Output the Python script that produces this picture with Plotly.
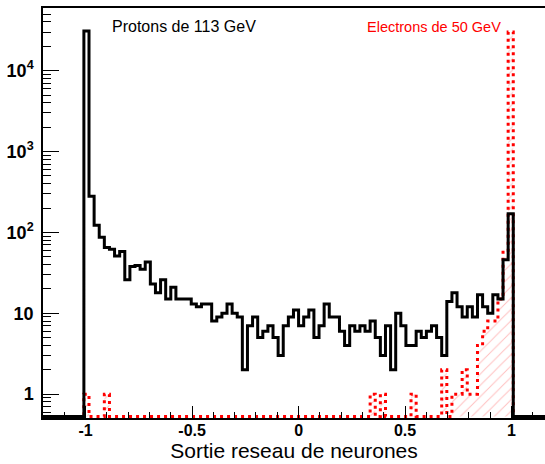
import numpy as np
import plotly.graph_objects as go

# Histogram binning: 100 bins of width 0.024 from -1.2 to 1.2
bin_low = -1.2
bin_width = 0.024
n_bins = 100
first_filled_bin = 8   # bin covering [-1.008, -0.984)

# Proton counts, bins 8..91 (from -1.008 to 1.008)
proton_counts = [
    31000, 280, 123, 87, 65, 62, 51, 58, 26, 38,
    39, 35, 43, 23, 18, 26, 15, 21, 15, 15,
    15, 13, 12, 13, 13, 8, 9, 10, 13, 10,
    9, 2, 7, 9, 5, 6, 7, 5, 3, 7,
    9, 11, 7, 9, 11, 5, 7, 13, 9, 9,
    6, 4, 7, 6, 7, 6, 8, 5, 3, 7,
    2, 10, 7, 4, 4, 6, 5, 6, 7, 5,
    3, 14, 18, 12, 9, 12, 9, 17, 12, 10,
    17, 15, 46, 170,
]

# Electron counts, bins 8..91
electron_counts = [
    1, 0, 0, 0, 1, 0, 0, 0, 0, 0,
    0, 0, 0, 0, 0, 0, 0, 0, 0, 0,
    0, 0, 0, 0, 0, 0, 0, 0, 0, 0,
    0, 0, 0, 0, 0, 0, 0, 0, 0, 0,
    0, 0, 0, 0, 0, 0, 0, 0, 0, 0,
    0, 0, 0, 0, 0, 0, 1, 0, 1, 0,
    0, 0, 0, 0, 1, 0, 0, 0, 0, 0,
    2, 0, 1, 1, 2, 1, 1, 4, 6, 8,
    8, 15, 60, 30000,
]

x_tick_vals = [-1, -0.5, 0, 0.5, 1]
x_tick_text = ["-1", "-0.5", "0", "0.5", "1"]
y_tick_vals = [1, 10, 100, 1000, 10000]
y_tick_text = ["1", "10", "10<sup>2</sup>", "10<sup>3</sup>", "10<sup>4</sup>"]

x_title = "Sortie reseau de neurones"
label_protons = "Protons de 113 GeV"
label_electrons = "Electrons de 50 GeV"

# Axis limits (log10 for y)
x_range = [-1.2, 1.157]
y_log_range = [-0.295, 4.775]
floor_value = 10 ** (y_log_range[0] + 0.02)   # empty bins sit on the axis floor

edges = bin_low + bin_width * np.arange(n_bins + 1)


def full_counts(values):
    arr = np.zeros(n_bins)
    arr[first_filled_bin:first_filled_bin + len(values)] = values
    return arr


def step_xy(values):
    arr = full_counts(values)
    y = np.where(arr > 0, arr, floor_value)
    y = np.append(y, y[-1])
    return edges, y


ex, ey = step_xy(electron_counts)
px, py = step_xy(proton_counts)

FONT = "Liberation Sans, Arial, Helvetica, sans-serif"

fig = go.Figure()

# Electron histogram: hatched area + dotted red outline
fig.add_trace(go.Scatter(
    x=ex, y=ey, mode="lines", line_shape="hv",
    line=dict(width=0, color="rgba(0,0,0,0)"),
    fill="toself", fillcolor="rgba(0,0,0,0)",
    fillpattern=dict(shape="/", fgcolor="rgba(255,40,40,0.6)",
                     bgcolor="rgba(0,0,0,0)", size=8, solidity=0.12),
    hoverinfo="skip", showlegend=False,
))
fig.add_trace(go.Scatter(
    x=ex, y=ey, mode="lines", line_shape="hv",
    line=dict(width=3, color="#ff0000", dash="3px,4px"),
    showlegend=False,
))

# Proton histogram: solid black outline
fig.add_trace(go.Scatter(
    x=px, y=py, mode="lines", line_shape="hv",
    line=dict(width=3, color="black"),
    showlegend=False,
))

fig.update_layout(
    width=545, height=464,
    margin=dict(l=43, r=0, t=8, b=46),
    paper_bgcolor="white", plot_bgcolor="white",
    showlegend=False,
    xaxis=dict(
        range=x_range, showgrid=False, zeroline=False,
        showline=True, linecolor="black", linewidth=1.5, mirror=True,
        ticks="inside", ticklen=12, tickwidth=1, tickcolor="black",
        tickvals=x_tick_vals, ticktext=x_tick_text,
        ticklabelstandoff=-3,
        tickfont=dict(family=FONT, size=16, color="black", weight="bold"),
        minor=dict(ticks="inside", ticklen=6, tickwidth=1, tickcolor="black",
                   dtick=0.1, tick0=0, showgrid=False),
        title=dict(text=x_title, standoff=2,
                   font=dict(family=FONT, size=21, color="black")),
    ),
    yaxis=dict(
        type="log", range=y_log_range, showgrid=False, zeroline=False,
        showline=True, linecolor="black", linewidth=1.5,
        ticks="inside", ticklen=16, tickwidth=1, tickcolor="black",
        tickvals=y_tick_vals, ticktext=y_tick_text,
        ticklabelstandoff=4,
        tickfont=dict(family=FONT, size=18, color="black", weight="bold"),
        minor=dict(ticks="inside", ticklen=8, tickwidth=1, tickcolor="black",
                   dtick="D1", showgrid=False),
    ),
    annotations=[
        dict(text=label_protons, xref="paper", yref="paper",
             x=0.280, y=0.954, showarrow=False, xanchor="center", yanchor="middle",
             font=dict(family=FONT, size=16, color="black")),
        dict(text=label_electrons, xref="paper", yref="paper",
             x=0.779, y=0.954, showarrow=False, xanchor="center", yanchor="middle",
             font=dict(family=FONT, size=14.5, color="#ff0000")),
    ],
)

fig.write_html("out.html")
